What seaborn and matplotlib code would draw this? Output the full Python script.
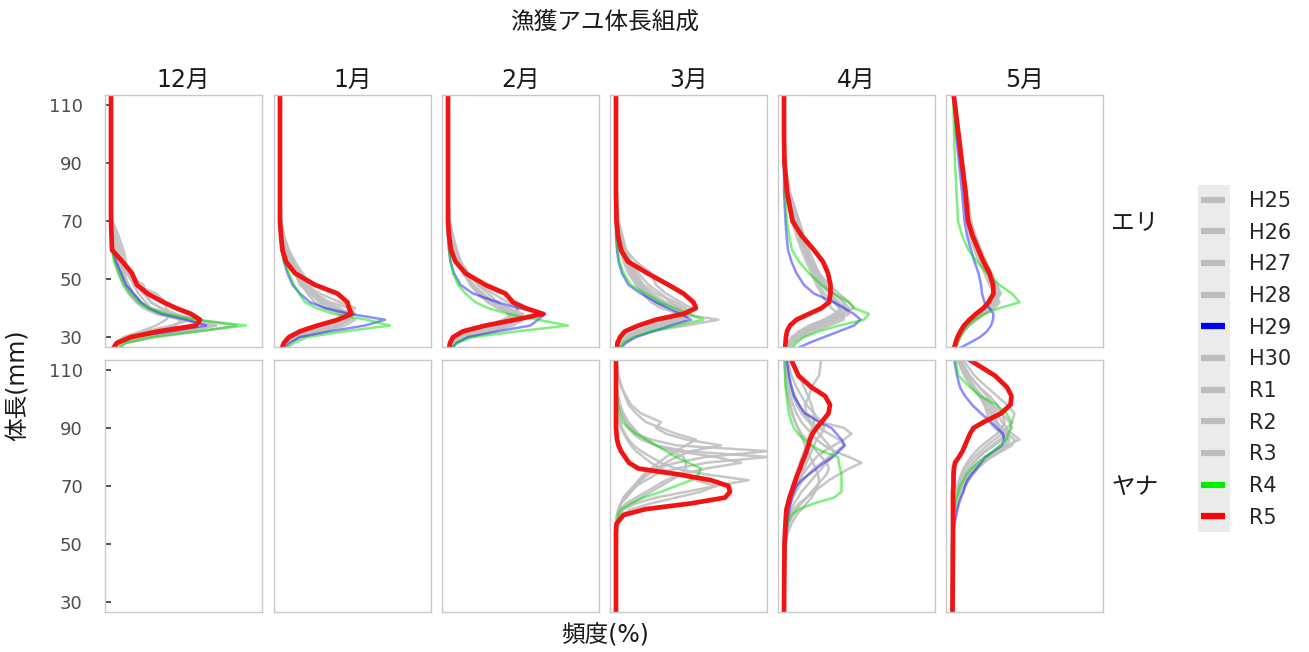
import numpy as np
import pandas as pd
import matplotlib
matplotlib.use("Agg")
import matplotlib.pyplot as plt
import seaborn as sns
from matplotlib.lines import Line2D
from matplotlib.patches import Rectangle

sns.set_style("white")
plt.rcParams["font.family"] = ["DejaVu Sans", "Noto Sans CJK JP"]

years = ["H25", "H26", "H27", "H28", "H29", "H30", "R1", "R2", "R3", "R4", "R5"]
months = ["12月", "1月", "2月", "3月", "4月", "5月"]
sites = ["エリ", "ヤナ"]

# body length grids (mm)
len_eri = [26, 28, 30, 32, 34, 36, 38, 40, 42, 45, 48, 52, 56, 60, 65, 70, 80, 90, 100, 114]
len_yana = [26, 50, 54, 57, 60, 62, 64, 66, 68, 70, 72, 74, 76, 78, 80, 82, 84, 86, 88, 90,
            92, 95, 98, 101, 104, 108, 114]

# frequency (%) per year, エリ
eri_12 = {
    "H25": [0.5, 2, 6, 14, 21, 18, 12, 8, 6, 4.5, 3.5, 2.5, 2, 1.5, 0.6, 0, 0, 0, 0, 0],
    "H26": [0.3, 1, 3, 8, 13, 14, 12, 11, 11, 9, 5, 3, 2, 1, 0.5, 0.2, 0, 0, 0, 0],
    "H27": [0.8, 3, 9, 18, 25, 17, 10, 7, 5.5, 4, 3, 2, 1.2, 0.5, 0.1, 0, 0, 0, 0, 0],
    "H28": [0.4, 1.5, 5, 12, 17, 16, 11, 8, 7, 5.5, 4.5, 3.5, 3, 2.5, 1.5, 0.3, 0, 0, 0, 0],
    "H29": [0.3, 1.2, 4, 12, 19, 15, 10, 7.5, 6, 4.5, 3, 2, 1, 0.3, 0, 0, 0, 0, 0, 0],
    "H30": [0.6, 2.5, 8, 16, 20, 14, 9, 6.5, 5, 3.5, 2.5, 1.5, 0.8, 0.3, 0, 0, 0, 0, 0, 0],
    "R1": [0.3, 1, 3, 7, 12, 16, 13, 10, 8, 7, 6.5, 3, 1.5, 0.6, 0.2, 0, 0, 0, 0, 0],
    "R2": [0.2, 0.8, 2.5, 6, 9, 11, 12, 10, 8, 6.5, 5, 3.5, 2.5, 2, 1, 0.2, 0, 0, 0, 0],
    "R3": [0.5, 2, 6, 15, 21, 15, 10, 7.5, 6, 4.5, 3.5, 2.5, 1.5, 0.7, 0.2, 0, 0, 0, 0, 0],
    "R4": [1.5, 3, 8, 17, 27, 17, 11, 7.5, 5.5, 3.8, 2.5, 1.5, 0.6, 0.2, 0, 0, 0, 0, 0, 0],
    "R5": [0.4, 1.2, 4, 9.5, 17, 17.8, 16, 13, 10.5, 7.3, 5.2, 4.2, 2.3, 0.2, 0.1, 0, 0, 0, 0, 0],
}
eri_1 = {
    "H25": [0.3, 1, 3, 7, 11, 14, 13, 11, 9, 7, 5, 3.5, 2, 1, 0.4, 0.1, 0, 0, 0, 0],
    "H26": [0.2, 0.8, 2.5, 6, 10, 12, 14, 12, 9, 6, 4, 3, 2, 1.2, 0.5, 0.1, 0, 0, 0, 0],
    "H27": [0.5, 1.5, 4, 9, 13, 15, 12, 9, 7, 5.5, 4.5, 3.5, 2.5, 1.5, 0.8, 0.2, 0, 0, 0, 0],
    "H28": [0.3, 1, 3, 6, 9, 11, 13, 15, 12, 8, 5, 3, 1.8, 1, 0.4, 0.1, 0, 0, 0, 0],
    "H29": [0.8, 2, 4, 10, 17, 21, 14, 9, 6, 4, 2.5, 1.5, 0.8, 0.3, 0.1, 0, 0, 0, 0, 0],
    "H30": [0.2, 0.6, 1.5, 4, 8, 12, 15, 14, 10, 7, 5, 3.5, 2.5, 1.5, 0.6, 0.2, 0, 0, 0, 0],
    "R1": [0.4, 1.2, 3.5, 8, 12, 14, 12, 10, 8, 6.5, 5.5, 4, 2.5, 1.3, 0.5, 0.1, 0, 0, 0, 0],
    "R2": [0.3, 1, 2.5, 5, 8, 12, 13, 11, 9, 7, 6, 4.5, 3, 1.8, 0.8, 0.2, 0, 0, 0, 0],
    "R3": [0.4, 1.3, 3.5, 7.5, 11, 13, 14, 11, 8, 6, 4.5, 3, 1.8, 1, 0.4, 0.1, 0, 0, 0, 0],
    "R4": [1.2, 2.8, 5.5, 13, 22, 17.3, 10.7, 7.3, 5, 3.8, 2.8, 1.8, 0.8, 0.3, 0.1, 0, 0, 0, 0, 0],
    "R5": [0.3, 0.8, 1.8, 4, 7.5, 11.6, 14.3, 13.8, 13.5, 11.5, 7, 3, 1.2, 0.5, 0.2, 0, 0, 0, 0, 0],
}
eri_2 = {
    "H25": [0.3, 1, 3, 7, 11, 14, 13, 11, 9, 7, 5, 3.5, 2.5, 1.5, 0.8, 0.3, 0, 0, 0, 0],
    "H26": [0.2, 0.6, 2, 5, 9, 12, 14, 14, 13, 11, 6, 4, 2.5, 1.5, 0.8, 0.3, 0, 0, 0, 0],
    "H27": [0.4, 1.5, 4, 9, 13, 15, 13, 10, 8, 6, 4.5, 3.5, 2.5, 1.8, 1, 0.4, 0, 0, 0, 0],
    "H28": [0.2, 0.8, 2.5, 6, 10, 13, 15, 12, 9, 7, 5, 3.5, 2.5, 1.5, 0.6, 0.2, 0, 0, 0, 0],
    "H29": [0.6, 1.8, 4, 10, 16.5, 18, 19.5, 14, 10, 5, 2.5, 1.2, 0.5, 0.2, 0, 0, 0, 0, 0, 0],
    "H30": [0.3, 1, 3, 7, 11, 13, 12, 11, 10, 8, 6, 4, 2.5, 1.5, 0.7, 0.2, 0, 0, 0, 0],
    "R1": [0.3, 1, 3, 6, 10, 13, 14, 12, 9, 6.5, 4.5, 3, 2, 1.2, 0.5, 0.1, 0, 0, 0, 0],
    "R2": [0.2, 0.6, 2, 5, 8, 11, 13, 14, 12, 9, 6, 4, 2.5, 1.5, 0.8, 0.3, 0, 0, 0, 0],
    "R3": [0.4, 1.2, 3.5, 8, 12, 14, 13, 10, 8, 6, 4.5, 3.5, 2.5, 1.5, 0.8, 0.2, 0, 0, 0, 0],
    "R4": [0.8, 1.6, 5, 14, 24, 18, 12, 8, 5.5, 3.5, 2, 1, 0.5, 0.2, 0, 0, 0, 0, 0, 0],
    "R5": [0.2, 0.4, 1.0, 3.0, 7.5, 13.5, 19, 15.5, 13.0, 11.5, 7.5, 3.5, 1.5, 0.6, 0.2, 0, 0, 0, 0, 0],
}
eri_3 = {
    "H25": [0.5, 1.5, 3.5, 7, 14, 20.5, 13, 9, 7, 5.5, 4, 2.5, 1.5, 0.8, 0.3, 0.1, 0, 0, 0, 0],
    "H26": [0.3, 0.8, 2, 5, 9, 13, 15, 13, 10, 7, 5, 3.5, 2.5, 1.5, 0.7, 0.2, 0, 0, 0, 0],
    "H27": [0.3, 1, 2.5, 5, 9, 12, 14, 14, 12, 8, 5.5, 4, 3, 2, 1, 0.3, 0, 0, 0, 0],
    "H28": [0.2, 0.6, 1.5, 4, 7, 10, 13, 15, 13, 10, 8, 7, 4, 2, 1, 0.3, 0, 0, 0, 0],
    "H29": [0.8, 2, 4, 7.5, 11, 15, 13, 10.5, 8, 5, 2.5, 1.2, 0.5, 0.2, 0, 0, 0, 0, 0, 0],
    "H30": [0.4, 1, 2.5, 5.5, 10, 14, 12, 10, 8, 6, 4.5, 3, 2, 1.2, 0.6, 0.2, 0, 0, 0, 0],
    "R1": [0.2, 0.6, 2, 4.5, 8, 12, 14, 12, 9, 7, 5, 3.5, 2.5, 2, 1.3, 0.5, 0, 0, 0, 0],
    "R2": [0.3, 0.8, 2, 4, 7, 11, 13, 13, 11, 9, 6.5, 4.5, 3, 1.8, 0.8, 0.2, 0, 0, 0, 0],
    "R3": [0.3, 1, 2.5, 5, 9, 13, 15, 12, 9, 6.5, 4.5, 3, 2, 1.3, 0.6, 0.2, 0, 0, 0, 0],
    "R4": [0.7, 1.5, 3.5, 7, 12, 17.5, 14.5, 11.5, 9, 6, 3, 1.5, 0.7, 0.3, 0, 0, 0, 0, 0, 0],
    "R5": [0.2, 0.3, 0.8, 1.8, 4.5, 8, 13.5, 16, 15.5, 13.5, 10.5, 6.3, 2.4, 1.0, 0.4, 0.1, 0, 0, 0, 0],
}
eri_4 = {
    "H25": [0.5, 1, 2, 3.5, 6, 9, 12, 13, 12, 10, 8, 6.5, 5.5, 4.5, 3.5, 2.5, 0.8, 0.1, 0, 0],
    "H26": [0.8, 1.5, 3, 5, 8, 11, 13, 12, 10, 8, 7, 6, 5, 4, 3, 2, 0.6, 0.1, 0, 0],
    "H27": [0.3, 0.8, 1.5, 3, 5, 8, 11, 14, 13, 11, 9, 7, 5.5, 4.5, 3.8, 3, 1, 0.2, 0, 0],
    "H28": [0.5, 1.2, 2.5, 4.5, 7, 10, 12, 11, 10, 9, 8, 7, 6, 5, 4, 3, 1.2, 0.2, 0, 0],
    "H29": [2.5, 5, 8, 11, 14, 15.3, 14, 12, 10, 6, 4, 2.5, 1.5, 0.8, 0.5, 0.3, 0, 0, 0, 0],
    "H30": [1, 2, 3.5, 6, 9, 12, 11, 9.5, 8.5, 7.5, 6.5, 5.5, 4.5, 3.5, 2.5, 1.5, 0.4, 0, 0, 0],
    "R1": [0.4, 1, 2, 4, 7, 10, 12, 12.5, 11, 9, 7.5, 6, 5, 4, 3, 2, 0.6, 0.1, 0, 0],
    "R2": [0.6, 1.3, 2.5, 4, 6, 8, 10, 12, 12, 10, 8, 6.5, 5, 4, 3.2, 2.5, 1, 0.2, 0, 0],
    "R3": [0.4, 1, 2, 3.5, 6, 9, 11, 11, 10.5, 9.5, 8.5, 7, 5.5, 4.2, 3, 2, 0.7, 0.1, 0, 0],
    "R4": [1.5, 2.5, 4, 7, 11, 16, 17, 14, 13, 10, 7.5, 5, 3, 1.6, 1.0, 0.6, 0.2, 0, 0, 0],
    "R5": [0.2, 0.3, 0.4, 0.6, 1.2, 2.5, 5, 7.5, 9, 9.3, 9.3, 8.8, 7.8, 6.0, 3.5, 1.7, 0.6, 0.1, 0, 0],
}
eri_5 = {
    "H25": [0.3, 0.6, 1, 1.6, 2.5, 3.8, 5.5, 7.5, 9, 9.5, 8.5, 7, 5.5, 4.5, 3.5, 3, 2.5, 1.8, 1, 0.3],
    "H26": [0.5, 0.9, 1.4, 2.2, 3.2, 4.5, 6, 7.5, 8.5, 9, 8.5, 7.5, 6.5, 5.5, 4.5, 3.5, 2.8, 2, 1.2, 0.3],
    "H27": [0.4, 0.8, 1.3, 2, 3, 4.5, 6.5, 8.5, 9.5, 8.5, 7.5, 6.5, 5.5, 4.5, 3.8, 3.2, 2.5, 1.8, 1, 0.3],
    "H28": [0.3, 0.6, 1, 1.5, 2.3, 3.5, 5, 7, 8.5, 9.8, 9, 7.5, 6, 5, 4, 3.3, 2.6, 1.8, 1, 0.2],
    "H29": [1.3, 3.5, 5.6, 7, 7.8, 8.2, 8.3, 7.5, 6.5, 6.0, 5.8, 5.3, 4.5, 3.8, 3, 2.5, 2, 1.4, 0.8, 0.3],
    "H30": [0.6, 1, 1.6, 2.4, 3.5, 5, 6.5, 8, 8.8, 8.5, 8, 7, 6, 5, 4, 3, 2.4, 1.7, 1, 0.3],
    "R1": [0.4, 0.8, 1.2, 1.8, 2.8, 4, 5.5, 7, 8, 8.8, 8.8, 8, 6.8, 5.5, 4.3, 3.4, 2.7, 1.9, 1.1, 0.3],
    "R2": [0.3, 0.7, 1.1, 1.7, 2.6, 3.8, 5.2, 6.8, 8, 8.5, 8.3, 7.8, 6.8, 5.8, 4.7, 3.8, 3, 2, 1.1, 0.3],
    "R3": [0.5, 0.9, 1.4, 2, 3, 4.2, 5.8, 7.4, 8.6, 9.2, 8.6, 7.2, 6, 5, 4, 3.2, 2.5, 1.8, 1, 0.3],
    "R4": [0.8, 1.2, 1.7, 2.3, 3.2, 4.5, 6.5, 9.5, 13.5, 12, 9.5, 7, 5, 3.3, 2, 1.2, 0.9, 0.6, 0.4, 0.2],
    "R5": [0.4, 0.7, 1.1, 1.7, 2.4, 3.5, 4.8, 6.3, 7.3, 8.3, 8.2, 7.5, 6.3, 5.3, 4.1, 3.2, 2.7, 2.0, 1.3, 0.3],
}

# frequency (%) per year, ヤナ
yana_3 = {
    "H25": [0, 0, 0, 0.1, 0.3, 0.6, 1, 1.5, 2.5, 4, 6, 8, 12, 18, 30.5, 14, 8, 5, 3.5, 2.5, 1.8, 1.2, 0.8, 0.4, 0.2, 0, 0],
    "H26": [0, 0, 0, 0, 0.2, 0.5, 1, 2, 3, 4, 5, 6, 8, 12, 18, 30.5, 12, 7, 4, 3, 2, 1.2, 0.6, 0.3, 0.1, 0, 0],
    "H27": [0, 0, 0, 0.1, 0.5, 1.5, 4, 8, 14, 20, 26.5, 18, 12, 9, 7, 5, 3.5, 2.5, 1.8, 1.2, 0.8, 0.4, 0.2, 0.1, 0, 0, 0],
    "H28": [0, 0, 0, 0, 0.2, 0.5, 1, 2, 3, 4, 5, 6.5, 8, 10, 12, 15, 21, 14, 10, 8, 9, 5, 3, 2, 1, 0.3, 0],
    "H30": [0, 0, 0, 0.2, 1, 3, 7, 12, 17, 20, 16, 12, 9, 7, 5.5, 4, 3, 2.2, 1.6, 1, 0.6, 0.3, 0.1, 0, 0, 0, 0],
    "R1": [0, 0, 0, 0, 0.3, 1, 2, 4, 6, 8, 10, 13, 18, 25, 20, 12, 8, 6, 4.5, 3, 2, 1.2, 0.6, 0.3, 0.1, 0, 0],
    "R2": [0, 0, 0, 0.1, 0.5, 1.5, 3, 5, 7, 9, 11, 13, 14, 14, 13.5, 11, 8, 6, 4.5, 3.5, 2.5, 1.5, 0.8, 0.4, 0.2, 0, 0],
    "R3": [0, 0, 0, 0, 0.2, 0.5, 1, 1.5, 2.5, 3.5, 4.5, 5.5, 7, 8.5, 10, 12, 14, 16, 12, 9, 6, 4, 2.5, 1.8, 1.2, 0.5, 0],
    "R4": [0, 0, 0.1, 0.2, 0.4, 1.0, 3.0, 5.5, 9, 12, 15, 16.5, 17, 14.5, 12, 10, 8, 6, 4, 2.5, 1.3, 0.8, 0.4, 0.2, 0.1, 0, 0],
    "R5": [0, 0, 0, 0.1, 1.5, 5.8, 15, 21.8, 22.8, 22.5, 19, 12.5, 4.5, 2.6, 1.8, 1.0, 0.5, 0.2, 0.1, 0, 0, 0, 0, 0, 0, 0, 0],
}
yana_4 = {
    "H25": [0, 0, 0.1, 0.2, 0.4, 0.6, 0.9, 1.3, 1.8, 2.4, 3, 3.8, 4.6, 5.5, 6.5, 8, 10, 12, 13.5, 12, 7.5, 4.5, 4.2, 5, 5.5, 7, 7.5],
    "H26": [0, 0.1, 0.3, 0.6, 1.2, 2, 3, 4.5, 6, 7.5, 9, 11, 13, 15.5, 13, 10, 8, 6.5, 5.5, 4.5, 3.5, 2.5, 1.8, 1.2, 0.8, 0.5, 0.2],
    "H27": [0, 0.1, 0.3, 0.6, 1, 1.5, 2, 2.8, 3.5, 4.5, 5.5, 6.5, 7.5, 8.5, 9.5, 10, 9, 8, 7, 6, 5, 3.5, 2.5, 1.8, 1.2, 0.7, 0.3],
    "H28": [0, 0, 0.1, 0.3, 0.5, 0.8, 1.2, 1.6, 2, 2.5, 3, 3.5, 4, 4.5, 5, 5.5, 6, 6.5, 7.5, 8, 7.5, 6, 4.5, 3.5, 2.5, 1.5, 0.6],
    "H29": [0, 0.3, 0.5, 0.7, 0.9, 1.1, 1.3, 1.6, 2, 2.5, 3.5, 5, 6.5, 8, 9.8, 11, 12.2, 11.5, 10.5, 9.5, 7, 4.2, 3, 2, 1.5, 1, 0.5],
    "H30": [0, 0.2, 0.5, 1, 1.8, 2.5, 3.5, 4.5, 5.5, 6.5, 7.5, 8.5, 9, 8.5, 7.5, 6.5, 5.5, 4.5, 3.5, 2.8, 2.2, 1.6, 1.2, 0.8, 0.5, 0.3, 0.1],
    "R1": [0, 0, 0.1, 0.3, 0.6, 0.9, 1.3, 1.8, 2.4, 3, 3.8, 4.8, 6, 7.5, 9, 10.5, 12, 11, 9, 7, 5.5, 4, 3, 2.2, 1.5, 0.9, 0.4],
    "R2": [0, 0.3, 0.8, 1.5, 2.5, 3.5, 4.5, 5.5, 6.2, 6.8, 7, 6.8, 6.3, 5.8, 5.2, 4.7, 4.2, 3.8, 3.3, 2.8, 2.3, 1.7, 1.2, 0.8, 0.5, 0.3, 0.1],
    "R3": [0, 0, 0.1, 0.2, 0.4, 0.6, 0.8, 1, 1.3, 1.6, 2, 2.4, 2.8, 3.2, 3.6, 4, 4.4, 4.8, 5.2, 5.6, 6, 6, 5.5, 4.8, 4, 3, 1.5],
    "R4": [0, 0.1, 0.3, 0.7, 1.5, 3, 6, 10, 11.5, 11.5, 11.5, 11.5, 11.2, 11, 10.8, 7.5, 5.5, 4, 2.8, 2, 1.5, 1, 0.7, 0.5, 0.3, 0.2, 0.1],
    "R5": [0, 0.1, 0.2, 0.3, 0.4, 0.5, 0.8, 1.1, 1.5, 1.9, 2.3, 2.7, 3.2, 3.6, 4.1, 4.5, 4.9, 5.2, 5.7, 6.5, 7.5, 8.9, 9.2, 8.2, 5.5, 2.9, 1.3],
}
yana_5 = {
    "H25": [0, 0, 0.1, 0.2, 0.3, 0.5, 0.7, 1, 1.4, 1.9, 2.5, 3.2, 4, 5, 6.5, 8.5, 11, 13.5, 12, 10, 9, 8, 7, 5.5, 4, 2.5, 1],
    "H26": [0, 0.1, 0.2, 0.3, 0.5, 0.7, 1, 1.3, 1.7, 2.2, 2.8, 3.5, 4.5, 6, 8, 10, 12, 12.5, 11, 9.5, 8.5, 7.5, 6.5, 5.5, 4.5, 3, 1.2],
    "H27": [0, 0, 0.1, 0.2, 0.3, 0.4, 0.6, 0.8, 1.1, 1.5, 2, 2.6, 3.3, 4.2, 5.3, 6.5, 8, 9.5, 11, 12, 11.5, 10, 8, 6, 4.5, 3, 1.5],
    "H28": [0, 0, 0.1, 0.1, 0.2, 0.3, 0.5, 0.7, 0.9, 1.2, 1.6, 2.1, 2.7, 3.5, 4.5, 5.7, 7, 8.5, 10, 11, 12, 12.5, 11, 9, 7, 4.5, 2],
    "H29": [0, 0.1, 0.2, 0.5, 0.9, 1.1, 1.4, 1.8, 2.3, 2.6, 3.1, 3.9, 4.9, 5.8, 6.7, 8.3, 10, 10.4, 10.2, 9, 7.8, 5.8, 4, 2.6, 1.6, 1.0, 0.4],
    "H30": [0, 0.1, 0.2, 0.4, 0.6, 0.9, 1.2, 1.6, 2.1, 2.7, 3.4, 4.2, 5.2, 6.4, 7.8, 9.5, 11, 11.5, 10.5, 9.5, 9, 8.5, 7.5, 6, 4.5, 3, 1.2],
    "R1": [0, 0, 0.1, 0.2, 0.3, 0.5, 0.7, 0.9, 1.2, 1.6, 2.1, 2.7, 3.4, 4.3, 5.4, 6.8, 8.5, 10, 11, 11, 10, 9, 8, 7, 5.5, 3.5, 1.5],
    "R2": [0, 0, 0.1, 0.1, 0.2, 0.3, 0.4, 0.6, 0.8, 1.1, 1.4, 1.8, 2.3, 3, 3.8, 4.8, 6, 7.5, 9, 10, 10.5, 10, 9, 7.5, 5.5, 3.5, 1.5],
    "R3": [0, 0.1, 0.2, 0.3, 0.5, 0.7, 1, 1.4, 1.9, 2.5, 3.2, 4, 5, 6.2, 7.6, 9.2, 10.5, 11, 10, 8.5, 7.5, 7, 6.5, 5.5, 4, 2.5, 1],
    "R4": [0, 0.1, 0.2, 0.3, 0.4, 0.6, 0.7, 0.9, 1.3, 1.6, 2.3, 2.9, 3.9, 5.3, 6.9, 8.3, 9.6, 10.9, 11.3, 11.7, 11.9, 10.9, 8.9, 5.6, 3.6, 1.3, 0.6],
    "R5": [0.1, 0.2, 0.2, 0.2, 0.2, 0.2, 0.2, 0.2, 0.2, 0.3, 0.3, 0.3, 0.4, 0.6, 1.4, 2.1, 2.6, 3.1, 3.6, 4.3, 6.3, 9.8, 11.7, 11.9, 11, 8.6, 3],
}

panel_data = {
    ("エリ", "12月"): eri_12, ("エリ", "1月"): eri_1, ("エリ", "2月"): eri_2,
    ("エリ", "3月"): eri_3, ("エリ", "4月"): eri_4, ("エリ", "5月"): eri_5,
    ("ヤナ", "3月"): yana_3, ("ヤナ", "4月"): yana_4, ("ヤナ", "5月"): yana_5,
}
site_lengths = {"エリ": len_eri, "ヤナ": len_yana}

rows = []
for (site, month), d in panel_data.items():
    lens = site_lengths[site]
    for yr, vals in d.items():
        for L, f in zip(lens, vals):
            rows.append((site, month, yr, L, f))
df = pd.DataFrame(rows, columns=["site", "month", "year", "length", "freq"])

gray_years = ["H25", "H26", "H27", "H28", "H30", "R1", "R2", "R3"]
styles = {
    "H29": dict(color="#0000ff", alpha=0.45, lw=1.8),
    "R4": dict(color="#00e000", alpha=0.5, lw=1.8),
    "R5": dict(color="#f01414", alpha=1.0, lw=3.4),
}

W, H = 1309, 652
fig = plt.figure(figsize=(W / 100, H / 100), dpi=100)
col_left = [105, 274, 442, 610, 778, 946]
pw = 157
row_top = [95, 360]
ph = 252

for r, site in enumerate(sites):
    for c, month in enumerate(months):
        ax = fig.add_axes([col_left[c] / W, 1 - (row_top[r] + ph) / H, pw / W, ph / H])
        sub = df[(df.site == site) & (df.month == month)]
        if len(sub):
            g = sub[sub.year.isin(gray_years)]
            sns.lineplot(data=g, x="freq", y="length", units="year", estimator=None,
                         orient="y", color="#c0c0c0", lw=1.8, alpha=0.9, ax=ax, legend=False)
            for yr in ["H29", "R4", "R5"]:
                s = sub[sub.year == yr]
                sns.lineplot(data=s, x="freq", y="length", estimator=None, orient="y",
                             ax=ax, legend=False, **styles[yr])
        ax.set_xlim(-1.2, 30.2)
        ax.set_ylim(26.6, 113.4)
        ax.set_xlabel("")
        ax.set_ylabel("")
        ax.set_xticks([])
        ax.set_yticks([30, 50, 70, 90, 110])
        for sp in ax.spines.values():
            sp.set_color("#c8c8c8")
            sp.set_linewidth(1.0)
        if c == 0:
            ax.tick_params(axis="y", direction="in", length=4, width=1.2, color="#333333",
                           labelsize=13, labelcolor="#4d4d4d", pad=16, left=True)
        else:
            ax.tick_params(axis="y", left=False, labelleft=False)
        if r == 0:
            ax.set_title(month, fontsize=17, color="#1a1a1a", pad=6)

fig.text(605 / W, 1 - 22 / H, "漁獲アユ体長組成", ha="center", va="center", fontsize=17, color="#1a1a1a")
fig.text(1135 / W, 1 - 222 / H, "エリ", ha="center", va="center", fontsize=17, color="#1a1a1a")
fig.text(1135 / W, 1 - 487 / H, "ヤナ", ha="center", va="center", fontsize=17, color="#1a1a1a")
fig.text(18 / W, 1 - 385 / H, "体長(mm)", ha="center", va="center", rotation=90, fontsize=17, color="#1a1a1a")
fig.text(605 / W, 1 - 636 / H, "頻度(%)", ha="center", va="center", fontsize=17, color="#1a1a1a")

# legend
fig.patches.append(Rectangle((1198 / W, 1 - 532 / H), 32 / W, 347 / H, transform=fig.transFigure,
                             facecolor="#ebebeb", edgecolor="none", zorder=0))
leg_colors = {y: "#bdbdbd" for y in gray_years}
leg_colors.update({"H29": "#0000ff", "R4": "#00ee00", "R5": "#ff0000"})
handles = [Line2D([0], [0], color=leg_colors[y], lw=4.5, solid_capstyle="butt") for y in years]
fig.legend(handles, years, loc="upper left", bbox_to_anchor=(1201 / W, 1 - 191 / H),
           frameon=False, fontsize=15, handlelength=1.15, handletextpad=1.15,
           labelspacing=0.56, borderpad=0, borderaxespad=0)

fig.savefig("out.png", dpi=100)
